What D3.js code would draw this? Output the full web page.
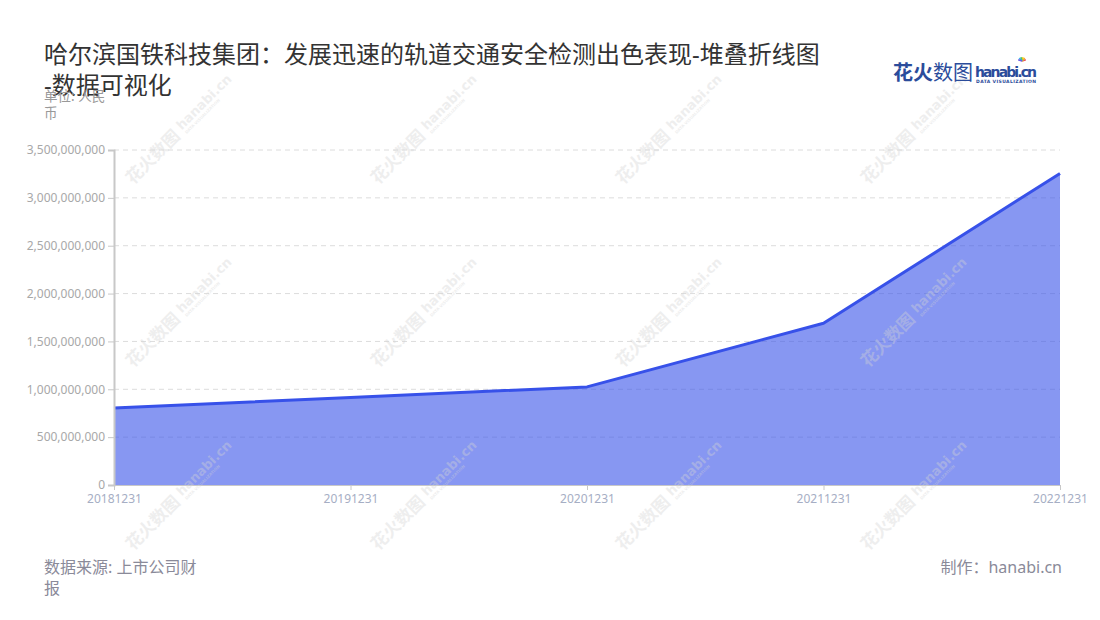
<!DOCTYPE html>
<html>
<head>
<meta charset="utf-8">
<script src="https://cdn.jsdelivr.net/npm/d3@7"></script>
<style>
  html, body { margin: 0; padding: 0; background: #fff; }
  svg text { font-family: "Noto Sans", "Noto Sans CJK SC", sans-serif; }
</style>
</head>
<body>
<svg id="chart" width="1100" height="620"></svg>
<script>
// data
const categories = ['20181231', '20191231', '20201231', '20211231', '20221231'];
const revenue = [805000000, 915000000, 1025000000, 1690000000, 3255000000];
const yTicks = [0, 500000000, 1000000000, 1500000000, 2000000000, 2500000000, 3000000000, 3500000000];

const titleLines = ['哈尔滨国铁科技集团：发展迅速的轨道交通安全检测出色表现-堆叠折线图', '-数据可视化'];
const unitLines = ['单位: 人民', '币'];
const sourceLines = ['数据来源: 上市公司财', '报'];
const credit = '制作：hanabi.cn';

const margin = {top: 150, right: 40, bottom: 135, left: 114};
const width = 1100, height = 620;

const svg = d3.select('#chart');

const x = d3.scalePoint()
    .domain(categories)
    .range([margin.left, width - margin.right]);

const y = d3.scaleLinear()
    .domain([0, 3500000000])
    .range([height - margin.bottom, margin.top]);

// grid lines (dashed)
svg.append('g')
    .selectAll('line')
    .data(yTicks.slice(1))
    .join('line')
    .attr('x1', margin.left)
    .attr('x2', width - margin.right)
    .attr('y1', (d) => y(d))
    .attr('y2', (d) => y(d))
    .attr('stroke', '#dcdcdc')
    .attr('stroke-dasharray', '5,4');

// area + line
let points = categories.map((c, i) => ({c: c, v: revenue[i]}));

let area = d3.area()
    .x((d) => x(d.c))
    .y0(y(0))
    .y1((d) => y(d.v));

let line = d3.line()
    .x((d) => x(d.c))
    .y((d) => y(d.v));

svg.append('path')
    .datum(points)
    .attr('d', area)
    .attr('fill', '#3751e9')
    .attr('fill-opacity', 0.6);

svg.append('path')
    .datum(points)
    .attr('d', line)
    .attr('fill', 'none')
    .attr('stroke', '#3751e9')
    .attr('stroke-width', 3)
    .attr('stroke-linejoin', 'round');

// y axis
let yAxis = svg.append('g')
    .attr('transform', `translate(${margin.left},0)`)
    .call(d3.axisLeft(y).tickValues(yTicks).tickFormat(d3.format(',')).tickSize(6).tickPadding(3));
yAxis.select('.domain').attr('stroke', '#c8c8c8').attr('stroke-width', 2);
yAxis.selectAll('.tick line').attr('stroke', '#c8c8c8');
yAxis.selectAll('.tick text').attr('fill', '#a8a8a8').attr('font-size', 12)
    .style('font-family', '"Noto Sans", sans-serif');

// x axis
let xAxis = svg.append('g')
    .attr('transform', `translate(0,${height - margin.bottom})`)
    .call(d3.axisBottom(x).tickSize(5).tickPadding(4));
xAxis.select('.domain').attr('stroke', '#c8c8c8').attr('stroke-width', 1);
xAxis.selectAll('.tick line').attr('stroke', '#c8c8c8');
xAxis.selectAll('.tick text').attr('fill', '#a6aec4').attr('font-size', 12)
    .style('font-family', '"Noto Sans", sans-serif');

// watermark tiles
let wmCols = [133, 378, 623, 868];
let wmRows = [185, 368, 551];
let wm = svg.append('g').attr('pointer-events', 'none');
wmRows.forEach((ry) => {
  wmCols.forEach((cx) => {
    let g = wm.append('g')
        .attr('transform', `translate(${cx},${ry}) rotate(-45)`)
        .attr('fill', '#d4d4d4')
        .attr('opacity', 0.38);
    g.append('text')
        .attr('font-size', 17)
        .attr('font-weight', 'bold')
        .style('font-family', '"Noto Sans CJK SC", sans-serif')
        .text('花火数图');
    g.append('text')
        .attr('x', 73)
        .attr('y', -4)
        .attr('font-size', 13)
        .attr('font-weight', 'bold')
        .style('font-family', '"DejaVu Sans", sans-serif')
        .text('hanabi.cn');
    g.append('text')
        .attr('x', 74)
        .attr('y', 2)
        .attr('font-size', 4)
        .attr('font-weight', 'bold')
        .style('font-family', '"DejaVu Sans", sans-serif')
        .text('DATA VISUALIZATION');
  });
});

// title
svg.append('text')
    .attr('x', 44)
    .attr('y', 63)
    .attr('fill', '#333')
    .attr('font-size', 24)
    .selectAll('tspan')
    .data(titleLines)
    .join('tspan')
    .attr('x', 44)
    .attr('dy', (d, i) => i === 0 ? 0 : 31)
    .text((d) => d);

// unit label (overlaps title like the reference)
svg.append('text')
    .attr('y', 101)
    .attr('fill', '#999')
    .attr('font-size', 13.5)
    .selectAll('tspan')
    .data(unitLines)
    .join('tspan')
    .attr('x', 44)
    .attr('dy', (d, i) => i === 0 ? 0 : 17)
    .text((d) => d);

// source
svg.append('text')
    .attr('y', 573)
    .attr('fill', '#8a8a99')
    .attr('font-size', 16)
    .selectAll('tspan')
    .data(sourceLines)
    .join('tspan')
    .attr('x', 44)
    .attr('dy', (d, i) => i === 0 ? 0 : 21)
    .text((d) => d);

svg.append('text')
    .attr('x', 1062)
    .attr('y', 573)
    .attr('text-anchor', 'end')
    .attr('fill', '#8a8a99')
    .attr('font-size', 16)
    .text(credit);

// logo
let logo = svg.append('g').attr('transform', 'translate(893,80)');
logo.append('text')
    .attr('font-size', 20)
    .attr('fill', '#2b4c9b')
    .style('font-family', '"Noto Sans CJK SC", sans-serif')
    .call((t) => {
      t.append('tspan').attr('font-weight', 'bold').text('花火');
      t.append('tspan').text('数图');
    });
logo.append('text')
    .attr('x', 82)
    .attr('y', -3)
    .attr('font-size', 14)
    .attr('font-weight', 'bold')
    .attr('fill', '#2b4c9b')
    .style('font-family', '"DejaVu Sans", sans-serif')
    .attr('textLength', 62)
    .text('hanabi.cn');
logo.append('text')
    .attr('x', 83)
    .attr('y', 3)
    .attr('font-size', 4.5)
    .attr('font-weight', 'bold')
    .attr('fill', '#2b4c9b')
    .attr('textLength', 60)
    .style('font-family', '"DejaVu Sans", sans-serif')
    .text('DATA VISUALIZATION');
// little spark over the "i"
let sparkColors = ['#e84b5b', '#f6a623', '#f8d21c', '#4fc36b', '#2fb5e8', '#6a5be6'];
logo.append('g')
    .attr('transform', 'translate(129,-19)')
    .selectAll('line')
    .data(sparkColors)
    .join('line')
    .attr('x1', 0).attr('y1', 0)
    .attr('x2', (d, i) => 4 * Math.cos(-Math.PI * (0.1 + i * 0.16)))
    .attr('y2', (d, i) => 4 * Math.sin(-Math.PI * (0.1 + i * 0.16)))
    .attr('stroke', (d) => d)
    .attr('stroke-width', 1.6);
</script>
</body>
</html>
